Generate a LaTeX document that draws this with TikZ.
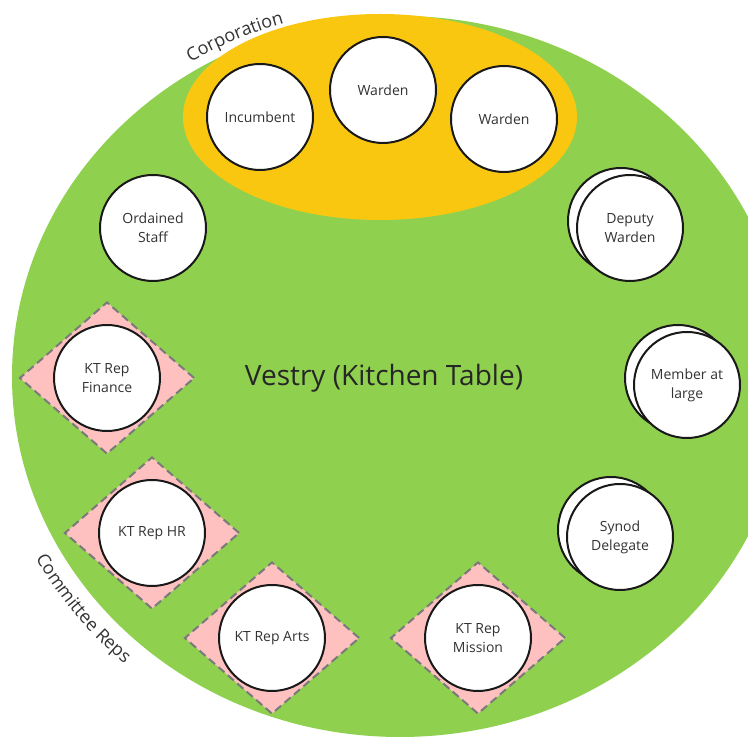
\documentclass[tikz,border=0pt]{standalone}
\usepackage{fontspec}
\setmainfont{Open Sans}
\usetikzlibrary{shapes.geometric,decorations.text}
\definecolor{vgreen}{HTML}{8FD14F}
\definecolor{vyellow}{HTML}{FAC710}
\definecolor{vpink}{HTML}{FFC0C0}
\definecolor{vtext}{HTML}{333333}
\definecolor{vdash}{HTML}{7A7A7A}
\begin{document}
\begin{tikzpicture}[x=1pt,y=1pt,
  member/.style={circle, draw=black!90, line width=2pt, fill=white, minimum size=106pt,
    inner sep=0pt, align=center, text=vtext, font=\fontsize{14}{19}\selectfont},
  repbox/.style={diamond, draw=vdash, dash pattern=on 8pt off 4.5pt, line width=2pt,
    fill=vpink, minimum width=175pt, minimum height=152pt, inner sep=0pt}]
\useasboundingbox (0,0) rectangle (748,741);
\begin{scope}
  \clip (0,0) rectangle (748,741);
  \fill[vgreen] (400,364.5) ellipse [x radius=388, y radius=360.5];
\end{scope}
\fill[vyellow] (380,624) ellipse [x radius=197, y radius=103];
% corporation
\node[member] (inc) at (260,624) {Incumbent};
\node[member] (war1) at (383,651) {Warden};
\node[member] (war2) at (504,622) {Warden};
\node[member] (ord) at (153,513) {Ordained\\Staff};
% double circles
\node[member] (depb) at (621,520) {};
\node[member] (dep) at (630,513) {Deputy\\Warden};
\node[member] (memb) at (678,363) {};
\node[member] (mem) at (687,356) {Member at\\large};
\node[member] (synb) at (611,211) {};
\node[member] (syn) at (620,204) {Synod\\Delegate};
% committee reps
\node[repbox] (dfin) at (107,363) {};
\node[member] (fin) at (107,363) {KT Rep\\Finance};
\node[repbox] (dhr) at (152,208) {};
\node[member] (hr) at (152,208) {KT Rep HR};
\node[repbox] (darts) at (272,103) {};
\node[member] (arts) at (272,103) {KT Rep Arts};
\node[repbox] (dmis) at (478,103) {};
\node[member] (mis) at (478,103) {KT Rep\\Mission};
% title
\node[text=black!85, font=\fontsize{28}{32}\selectfont] (vestry) at (384,363) {Vestry (Kitchen Table)};
% curved labels
\path[decorate, decoration={text along path, text align=center,
  text={|\fontsize{18}{18}\selectfont\color{vtext}|Corporation}}]
  (400,364.5) ++(131.5:397 and 369.5) arc[start angle=131.5, end angle=97.5, x radius=397, y radius=369.5];
\path[decorate, decoration={text along path, text align=center,
  text={|\fontsize{18}{18}\selectfont\color{vtext}|Committee Reps}}]
  (400,364.5) ++(199.5:413 and 385.5) arc[start angle=199.5, end angle=236.5, x radius=413, y radius=385.5];
\end{tikzpicture}
\end{document}
